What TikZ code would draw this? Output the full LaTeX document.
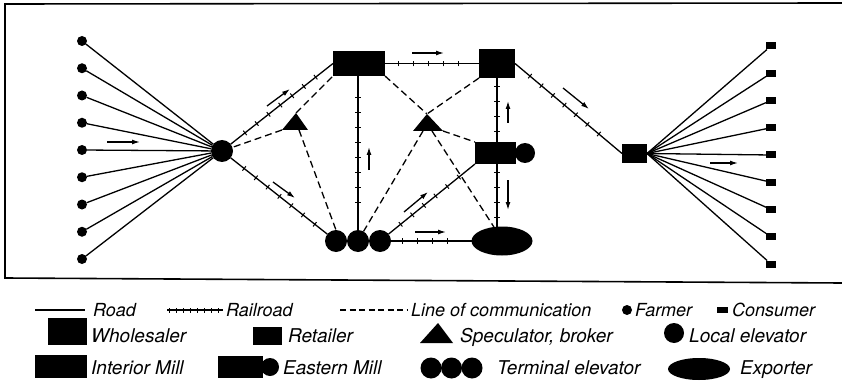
\documentclass[tikz,border=0pt]{standalone}
\usepackage{fontspec}
\setmainfont{TeX Gyre Heros}
\usetikzlibrary{decorations.markings,arrows.meta,shapes.geometric}
\tikzset{
  road/.style={line width=1.3pt},
  rail/.style={line width=1.3pt, postaction={decorate},
    decoration={markings, mark=between positions 0.14 and 0.88 step 15pt with {\draw[line width=1pt] (0,-2.8pt) -- (0,2.8pt);}}},
  legrail/.style={line width=1.1pt, postaction={decorate},
    decoration={markings, mark=between positions 0.04 and 0.99 step 7pt with {\draw[line width=0.9pt] (0,-2.5pt) -- (0,2.5pt);}}},
  comm/.style={line width=1.3pt, dash pattern=on 7pt off 4pt},
  flow/.style={line width=1.3pt, -{Latex[length=8pt,width=5pt]}},
  blob/.style={fill, inner sep=0pt, outer sep=0pt},
  farmer/.style={blob, circle, minimum size=10pt},
  consumer/.style={blob, rectangle, minimum width=10pt, minimum height=7pt},
  elevbox/.style={blob, circle, minimum size=22pt},
  lab/.style={anchor=base west, inner sep=0pt},
}
\begin{document}
\begin{tikzpicture}[x=1pt,y=-1pt]
\useasboundingbox (0,0) rectangle (842,382);
% frame
\draw[line width=1.6pt] (842,3) -- (5,4) -- (5,278) -- (842,283);

% farmers and consumers
\foreach \i in {1,...,9} {
  \node[farmer] (f\i) at (82,{41+27.25*(\i-1)}) {};
  \node[consumer] (c\i) at (771,{46+27.25*(\i-1)}) {};
}

% main nodes
\node[elevbox] (elev) at (222,151) {};
\node[blob, rectangle, minimum width=52pt, minimum height=25pt] (whole) at (359,63.5) {};
\node[blob, rectangle, minimum width=36pt, minimum height=29pt] (ret) at (497,63.5) {};
\node[blob, rectangle, minimum width=41pt, minimum height=22pt] (emill) at (495.5,153) {};
\node[blob, circle, minimum size=20pt] (emillc) at (525,153) {};
\node[elevbox] (term1) at (336,241) {};
\node[elevbox] (term2) at (358,241) {};
\node[elevbox] (term3) at (380,241) {};
\node[blob, ellipse, minimum width=61pt, minimum height=29pt] (exp) at (502,241) {};
\node[blob, rectangle, minimum width=25pt, minimum height=19pt] (imill) at (634.5,153.5) {};

% speculators
\coordinate (t1l) at (282,130); \coordinate (t1a) at (296,113); \coordinate (t1r) at (308,130);
\coordinate (t1b) at (299,130);
\fill (t1l) -- (t1a) -- (t1r) -- cycle;
\coordinate (t2l) at (413,131); \coordinate (t2a) at (427,114); \coordinate (t2r) at (443,131);
\coordinate (t2b) at (423,131); \coordinate (t2c) at (432,131);
\fill (t2l) -- (t2a) -- (t2r) -- cycle;

% roads
\foreach \i in {1,...,9} {
  \draw[road] (f\i) -- (elev);
  \draw[road] (imill.east) -- (c\i);
}

% railroads
\draw[rail] (elev) -- (whole.west);
\draw[rail] (elev) -- (term1);
\draw[rail] (whole) -- (ret);
\draw[rail] (whole.south -| term2) -- (term2);
\draw[rail] (term3) -- (emill.south west);
\draw[rail] (term3) -- (exp);
\draw[rail] (ret.south) -- (ret.south |- emill.north);
\draw[rail] (emill.south -| ret) -- (exp.north -| ret);
\draw[rail] (ret.east) -- (imill.west);

% lines of communication
\draw[comm] (t1l) -- (elev);
\draw[comm] (t1a) -- (whole.south west);
\draw[comm] (t1b) -- (term1.north);
\draw[comm] (whole.south east) -- (t2a);
\draw[comm] (ret.south west) -- (t2a);
\draw[comm] (t2r) -- (emill.north west);
\draw[comm] (t2b) -- (term2.60);
\draw[comm] (t2c) -- (exp.120);

% flow arrows
\draw[flow] (107,142) -- (140,142);
\draw[flow] (267,106) -- (290,89);
\draw[flow] (273,182) -- (295,198);
\draw[flow] (412,53) -- (444,53);
\draw[flow] (369,170) -- (369,147);
\draw[flow] (508,123) -- (508,101);
\draw[flow] (508,180) -- (508,210);
\draw[flow] (404,212) -- (428,192);
\draw[flow] (415,232) -- (446,232);
\draw[flow] (563,88) -- (589,109);
\draw[flow] (710,163) -- (738,163);

% legend row 1
\begin{scope}[font=\itshape\fontsize{18}{20}\selectfont]
\draw[road] (35,310) -- (85,310);
\node[lab] (lroad) at (93,316) {Road};
\draw[legrail] (167,310) -- (223,310);
\node[lab] (lrail) at (226,316) {Railroad};
\draw[comm, dash pattern=on 6pt off 3.5pt] (340,310) -- (408,310);
\node[lab] (lcomm) at (411,316) {Line of communication};
\node[farmer] (lf) at (627,310) {};
\node[lab] (lfarm) at (635,316) {Farmer};
\node[consumer, minimum width=11pt, minimum height=6pt] (lc) at (722,310) {};
\node[lab] (lcons) at (732,316) {Consumer};
\end{scope}

% legend rows 2 and 3
\begin{scope}[font=\itshape\fontsize{19}{21}\selectfont]
\node[blob, rectangle, minimum width=39pt, minimum height=27pt] (lwh) at (67.5,331.5) {};
\node[lab] (lwht) at (91,342) {Wholesaler};
\node[blob, rectangle, minimum width=29pt, minimum height=18pt] (lret) at (267.5,336) {};
\node[lab] (lrett) at (288,342) {Retailer};
\coordinate (lt1) at (420,343); \coordinate (lt2) at (438,323); \coordinate (lt3) at (453,343);
\fill (lt1) -- (lt2) -- (lt3) -- cycle;
\node[lab] (lspec) at (460,342) {Speculator, broker};
\node[blob, circle, minimum size=20pt] (lle) at (674,333) {};
\node[lab] (llet) at (689,342) {Local elevator};

\node[blob, rectangle, minimum width=52pt, minimum height=23pt] (lim) at (61,366.5) {};
\node[lab] (limt) at (91,374) {Interior Mill};
\node[blob, rectangle, minimum width=45pt, minimum height=22pt] (lem) at (240.5,367) {};
\node[blob, circle, minimum size=18pt] (lemc) at (270,367) {};
\node[lab] (lemt) at (283,374) {Eastern Mill};
\node[blob, circle, minimum size=21pt] (lte1) at (431,368) {};
\node[blob, circle, minimum size=21pt] (lte2) at (451.5,368) {};
\node[blob, circle, minimum size=21pt] (lte3) at (472,368) {};
\node[lab] (ltet) at (497,374) {Terminal elevator};
\node[blob, ellipse, minimum width=62pt, minimum height=22pt] (lexp) at (699,369) {};
\node[lab] (lexpt) at (740,374) {Exporter};
\end{scope}
\end{tikzpicture}
\end{document}
